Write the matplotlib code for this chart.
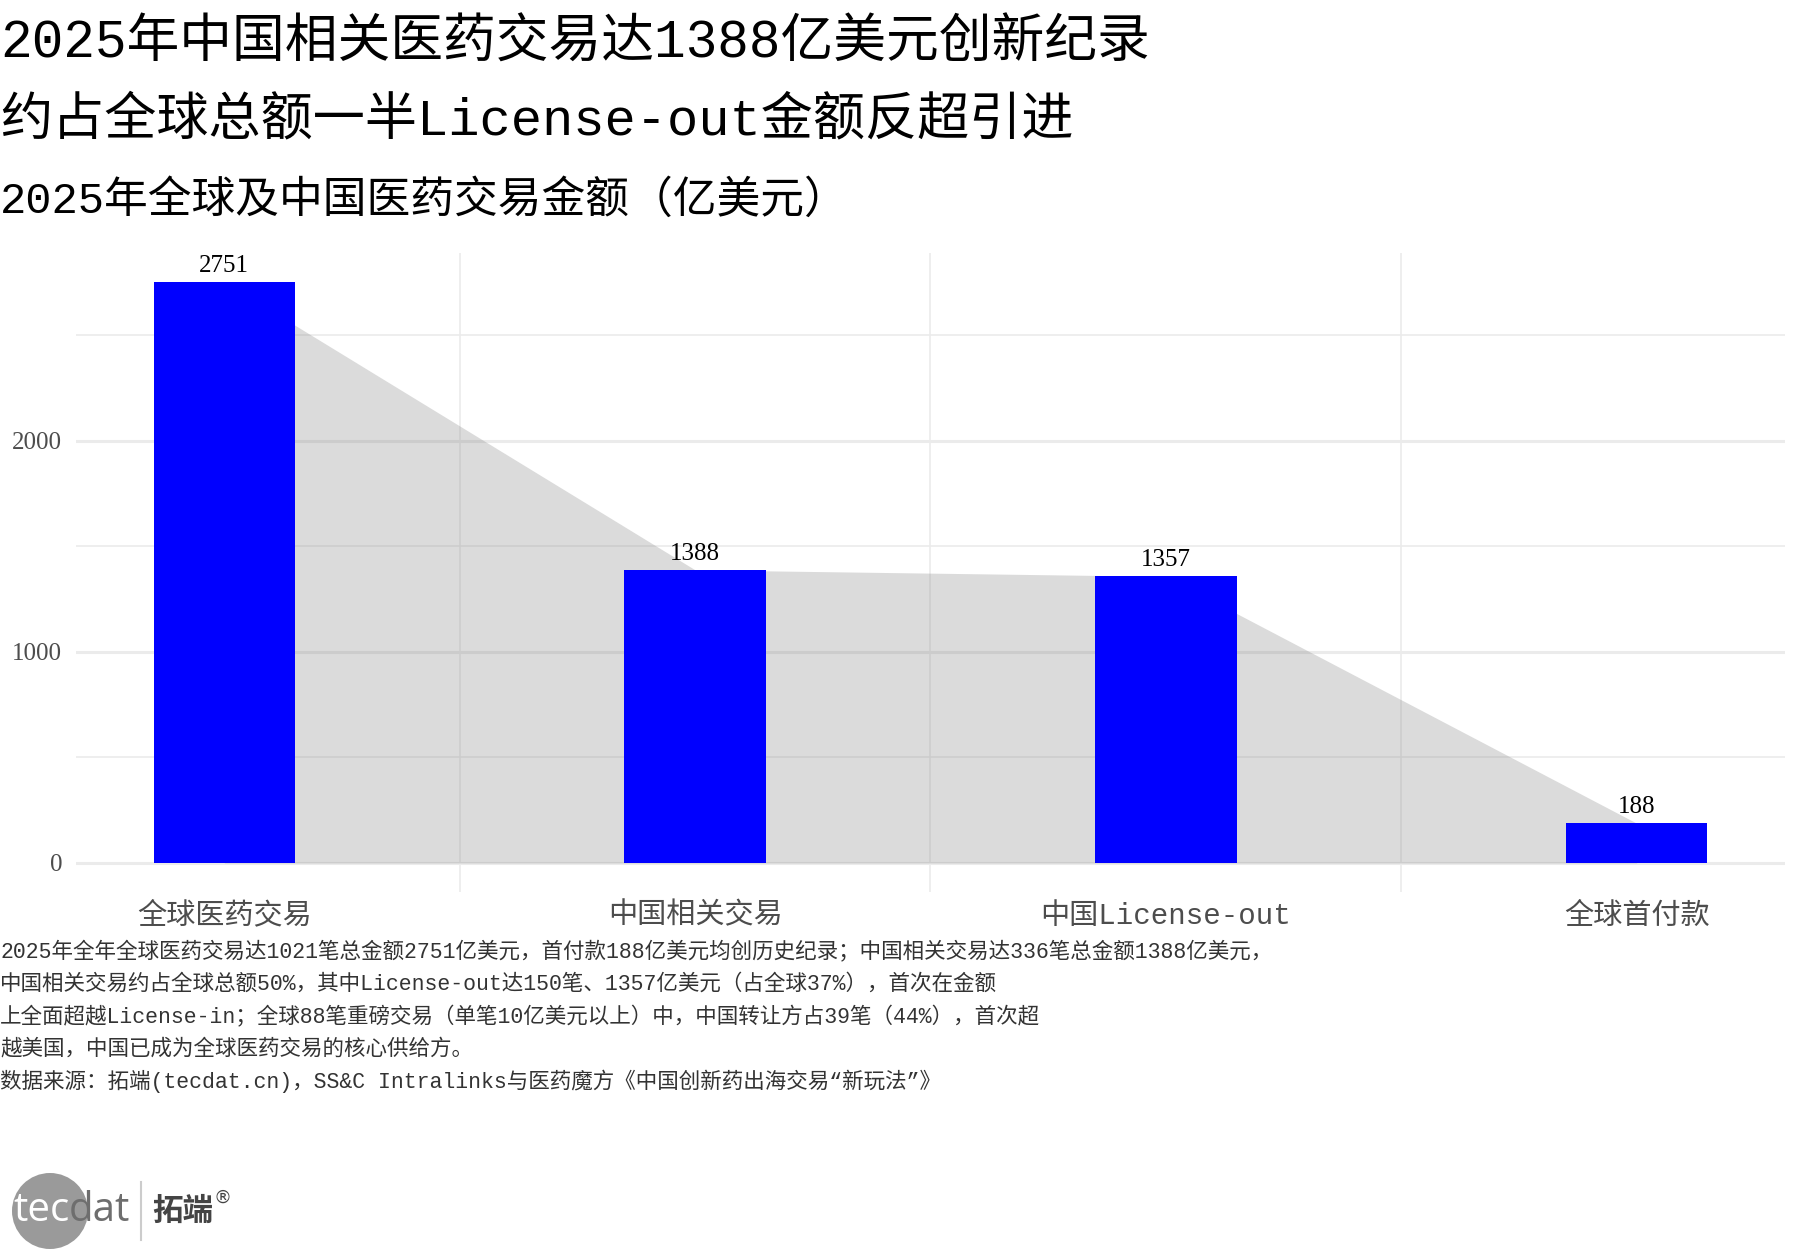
import matplotlib
matplotlib.use("Agg")
import matplotlib.pyplot as plt
from matplotlib.patches import Circle
from matplotlib.lines import Line2D

# ---- data ----
categories = ["全球医药交易", "中国相关交易", "中国License-out", "全球首付款"]
values = [2751, 1388, 1357, 188]
y_ticks = [0, 1000, 2000]
y_minor = [500, 1500, 2500]

title1 = "2025年中国相关医药交易达1388亿美元创新纪录"
title2 = "约占全球总额一半License-out金额反超引进"
subtitle = "2025年全球及中国医药交易金额（亿美元）"
caption_lines = [
    "2025年全年全球医药交易达1021笔总金额2751亿美元，首付款188亿美元均创历史纪录；中国相关交易达336笔总金额1388亿美元，",
    "中国相关交易约占全球总额50%，其中License-out达150笔、1357亿美元（占全球37%），首次在金额",
    "上全面超越License-in；全球88笔重磅交易（单笔10亿美元以上）中，中国转让方占39笔（44%），首次超",
    "越美国，中国已成为全球医药交易的核心供给方。",
    "数据来源：拓端(tecdat.cn)，SS&C Intralinks与医药魔方《中国创新药出海交易“新玩法”》",
]

CJK = ["Liberation Mono", "Noto Sans CJK SC", "DejaVu Sans"]
SERIF = ["Liberation Serif", "Noto Sans CJK SC", "DejaVu Sans"]
plt.rcParams["font.family"] = CJK

W, H = 1800, 1260
fig = plt.figure(figsize=(18, 12.6), dpi=100)
fig.patch.set_facecolor("white")

ax = fig.add_axes([76 / W, 1 - 892 / H, (1785 - 76) / W, (892 - 253) / H])
x = list(range(1, len(values) + 1))

# grid
for t in y_ticks:
    ax.axhline(t, color="#EBEBEB", lw=2.2, zorder=0)
for t in y_minor:
    ax.axhline(t, color="#EBEBEB", lw=1.2, zorder=0)
for xv in [1.5, 2.5, 3.5]:
    ax.axvline(xv, color="#EBEBEB", lw=1.2, zorder=0)

ax.fill_between(x, values, 0, color="#7F7F7F", alpha=0.28, lw=0, zorder=1)
ax.bar(x, values, width=0.3, color="#0000FF", zorder=2)
for xi, v in zip(x, values):
    ax.text(xi, v + 25, f"{v}", ha="center", va="bottom", fontsize=18,
            family=SERIF, color="black", zorder=3)

ax.set_xlim(0.685, 4.315)
ax.set_ylim(-137.55, 2888.55)
ax.set_xticks(x)
ax.set_xticklabels(categories, fontsize=21, color="#4D4D4D")
ax.set_yticks(y_ticks)
ax.set_yticklabels([str(t) for t in y_ticks], fontsize=18, color="#4D4D4D",
                   family=SERIF)
ax.tick_params(length=0)
ax.tick_params(axis="x", pad=7)
ax.tick_params(axis="y", pad=10)
for s in ax.spines.values():
    s.set_visible(False)

# titles
fig.text(0.0, 1 - 44 / H, title1, fontsize=38, va="center", ha="left", color="black")
fig.text(0.0, 1 - 121 / H, title2, fontsize=37.5, va="center", ha="left", color="black")
fig.text(0.0, 1 - 201 / H, subtitle, fontsize=31.5, va="center", ha="left", color="black")

# caption
cap_y = [952, 984, 1017, 1049, 1081]
for yy, line in zip(cap_y, caption_lines):
    fig.text(0.0, 1 - yy / H, line, fontsize=15.5, va="center", ha="left", color="#333333")

# logo
lax = fig.add_axes([0, 0, 1, 1], zorder=5)
lax.set_xlim(0, W)
lax.set_ylim(H, 0)
lax.axis("off")
lax.patch.set_alpha(0)
lax.add_patch(Circle((50, 1211), 38, color="#9A9A9A", lw=0))
lax.text(13, 1211, "tec", fontsize=29, color="white", va="center", ha="left",
         family=["Open Sans", "DejaVu Sans"])
lax.text(69, 1211, "dat", fontsize=29, color="#6E6E6E", va="center", ha="left",
         family=["Open Sans", "DejaVu Sans"])
lax.add_line(Line2D([141, 141], [1182, 1240], color="#CCCCCC", lw=1.5))
lax.text(152, 1211, "拓端", fontsize=22, color="#444444", va="center", ha="left",
         family=["Noto Sans CJK SC"], fontweight="bold")
lax.text(214, 1198, "®", fontsize=13, color="#444444", va="center", ha="left",
         family=["DejaVu Sans"])

fig.savefig("out.png", dpi=100, facecolor="white")
